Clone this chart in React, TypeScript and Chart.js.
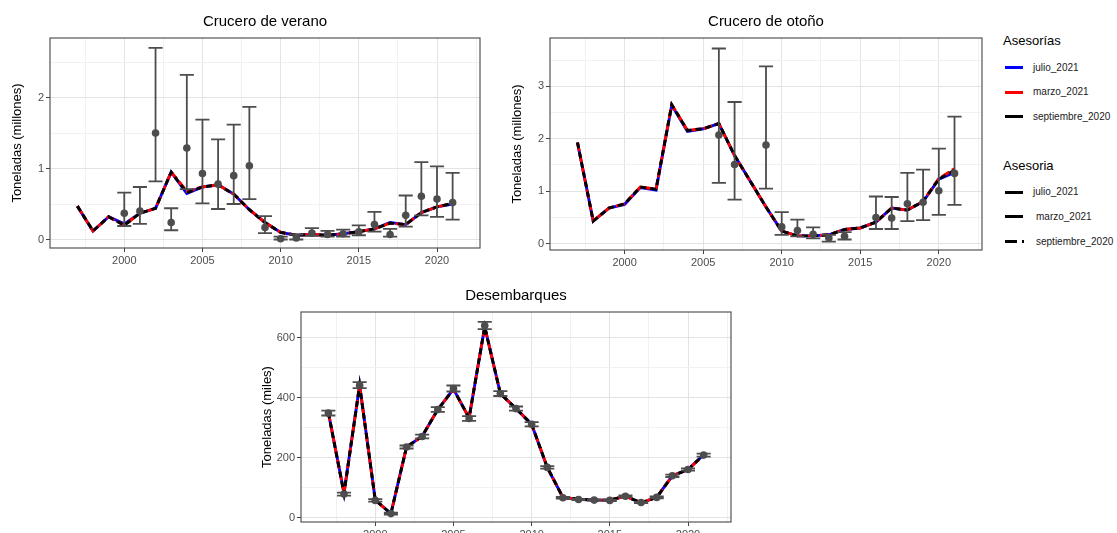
import React, { useEffect, useRef } from 'react';
import { Chart, registerables } from 'chart.js';

Chart.register(...registerables);

const FONT = "'Liberation Sans', Arial, sans-serif";

// ---- categories ----
const years = [1997, 1998, 1999, 2000, 2001, 2002, 2003, 2004, 2005, 2006, 2007, 2008, 2009, 2010, 2011, 2012, 2013, 2014, 2015, 2016, 2017, 2018, 2019, 2020, 2021];

// ---- tick positions / labels ----
const xGridTicks = [1997.5, 2000, 2002.5, 2005, 2007.5, 2010, 2012.5, 2015, 2017.5, 2020, 2022.5];
const xTickLabels = [2000, 2005, 2010, 2015, 2020];
const veranoYTicks = [0, 0.5, 1, 1.5, 2, 2.5];
const veranoYLabels = [0, 1, 2];
const otonoYTicks = [0, 0.5, 1, 1.5, 2, 2.5, 3, 3.5];
const otonoYLabels = [0, 1, 2, 3];
const desembYTicks = [0, 100, 200, 300, 400, 500, 600];
const desembYLabels = [0, 200, 400, 600];

// ---- Crucero de verano (millones t) ----
const veranoSept = [0.47, 0.12, 0.32, 0.2, 0.37, 0.44, 0.95, 0.66, 0.74, 0.77, 0.64, 0.42, 0.24, 0.1, 0.06, 0.07, 0.06, 0.08, 0.11, 0.15, 0.23, 0.21, 0.38, 0.46, 0.51];
const veranoMarzo = [0.47, 0.12, 0.32, 0.2, 0.37, 0.44, 0.95, 0.68, 0.74, 0.77, 0.64, 0.42, 0.24, 0.1, 0.06, 0.07, 0.06, 0.08, 0.11, 0.15, 0.23, 0.21, 0.38, 0.46, 0.51];
const veranoJulio = [0.47, 0.12, 0.32, 0.22, 0.37, 0.44, 0.95, 0.65, 0.74, 0.77, 0.64, 0.42, 0.24, 0.1, 0.06, 0.07, 0.06, 0.08, 0.11, 0.15, 0.24, 0.21, 0.38, 0.46, 0.5];
const veranoObsYears = [2000, 2001, 2002, 2003, 2004, 2005, 2006, 2007, 2008, 2009, 2010, 2011, 2012, 2013, 2014, 2015, 2016, 2017, 2018, 2019, 2020, 2021];
const veranoObs = [0.37, 0.4, 1.5, 0.24, 1.29, 0.93, 0.78, 0.9, 1.04, 0.17, 0.01, 0.02, 0.09, 0.07, 0.08, 0.11, 0.21, 0.07, 0.34, 0.61, 0.57, 0.52];
const veranoLow = [0.19, 0.22, 0.82, 0.13, 0.71, 0.51, 0.43, 0.5, 0.57, 0.09, 0.0, 0.0, 0.05, 0.04, 0.04, 0.06, 0.11, 0.04, 0.18, 0.34, 0.32, 0.28];
const veranoHigh = [0.66, 0.74, 2.7, 0.44, 2.32, 1.69, 1.41, 1.62, 1.87, 0.33, 0.04, 0.07, 0.16, 0.12, 0.14, 0.2, 0.39, 0.15, 0.62, 1.09, 1.03, 0.94];

// ---- Crucero de otoño (millones t) ----
const otonoSept = [1.93, 0.43, 0.68, 0.76, 1.08, 1.04, 2.65, 2.16, 2.19, 2.29, 1.68, 1.19, 0.7, 0.24, 0.15, 0.15, 0.17, 0.27, 0.3, 0.41, 0.68, 0.64, 0.81, 1.23, 1.4];
const otonoMarzo = [1.93, 0.43, 0.68, 0.76, 1.08, 1.04, 2.65, 2.16, 2.19, 2.29, 1.68, 1.19, 0.7, 0.24, 0.15, 0.15, 0.17, 0.27, 0.3, 0.41, 0.68, 0.64, 0.81, 1.24, 1.43];
const otonoJulio = [1.93, 0.43, 0.68, 0.75, 1.07, 1.02, 2.64, 2.14, 2.19, 2.29, 1.68, 1.19, 0.7, 0.24, 0.15, 0.15, 0.17, 0.27, 0.3, 0.41, 0.68, 0.64, 0.8, 1.23, 1.36];
const otonoObsYears = [2006, 2007, 2009, 2010, 2011, 2012, 2013, 2014, 2016, 2017, 2018, 2019, 2020, 2021];
const otonoObs = [2.07, 1.51, 1.88, 0.32, 0.25, 0.18, 0.11, 0.14, 0.5, 0.49, 0.76, 0.79, 1.01, 1.34];
const otonoLow = [1.16, 0.84, 1.05, 0.17, 0.14, 0.1, 0.04, 0.08, 0.28, 0.28, 0.43, 0.45, 0.55, 0.74];
const otonoHigh = [3.72, 2.7, 3.38, 0.6, 0.46, 0.31, 0.17, 0.22, 0.9, 0.89, 1.35, 1.41, 1.81, 2.42];

// ---- Desembarques (miles t) ----
const desembSept = [350, 80, 441, 58, 13, 235, 271, 360, 428, 332, 636, 413, 363, 311, 167, 67, 61, 58, 58, 71, 49, 67, 139, 160, 209];
const desembMarzo = [350, 80, 441, 58, 13, 235, 271, 360, 428, 332, 636, 413, 363, 311, 167, 67, 61, 58, 58, 71, 49, 67, 139, 160, 207];
const desembJulio = [350, 82, 441, 58, 13, 235, 271, 360, 428, 332, 636, 413, 363, 311, 167, 67, 61, 58, 58, 71, 49, 67, 139, 160, 209];
const desembObs = [348, 78, 441, 57, 13, 235, 270, 360, 430, 330, 640, 413, 363, 311, 167, 66, 60, 58, 57, 71, 50, 67, 139, 160, 208];
const desembLow = [340, 73, 431, 53, 10, 230, 264, 352, 420, 322, 628, 405, 356, 304, 163, 63, 58, 56, 55, 68, 48, 64, 135, 156, 203];
const desembHigh = [356, 83, 451, 61, 16, 240, 276, 368, 440, 338, 652, 421, 370, 318, 171, 69, 62, 60, 59, 74, 52, 70, 143, 164, 213];

const errorBarPlugin = {
  id: 'errorBars',
  beforeDatasetDraw(chart: any, args: any) {
    const ds = chart.data.datasets[args.index];
    if (!ds.errLow) return;
    const xs = chart.scales.x;
    const ys = chart.scales.y;
    const ctx = chart.ctx;
    ctx.save();
    ctx.strokeStyle = '#4D4D4D';
    ctx.lineWidth = 1.8;
    ds.data.forEach((p: any, i: number) => {
      const px = xs.getPixelForValue(p.x);
      const l = xs.getPixelForValue(p.x - 0.45);
      const r = xs.getPixelForValue(p.x + 0.45);
      const lo = ys.getPixelForValue(ds.errLow[i]);
      const hi = ys.getPixelForValue(ds.errHigh[i]);
      ctx.beginPath();
      ctx.moveTo(px, lo);
      ctx.lineTo(px, hi);
      ctx.moveTo(l, lo);
      ctx.lineTo(r, lo);
      ctx.moveTo(l, hi);
      ctx.lineTo(r, hi);
      ctx.stroke();
    });
    ctx.restore();
  },
};

const panelBorderPlugin = {
  id: 'panelBorder',
  afterDraw(chart: any) {
    const { left, right, top, bottom } = chart.chartArea;
    const ctx = chart.ctx;
    ctx.save();
    ctx.strokeStyle = '#555555';
    ctx.lineWidth = 1.2;
    ctx.strokeRect(left, top, right - left, bottom - top);
    ctx.restore();
  },
};

type PanelProps = {
  left: number; top: number; width: number; height: number;
  title: string; yTitle: string; yMin: number; yMax: number;
  yTicks: number[]; yLabels: number[];
  julio: number[]; marzo: number[]; sept: number[];
  obsYears: number[]; obs: number[]; low: number[]; high: number[];
  yAxisWidth: number; xAxisHeight: number; padRight: number; yTitlePad: number;
};

function Panel(p: PanelProps) {
  const ref = useRef<HTMLCanvasElement>(null);
  useEffect(() => {
    if (!ref.current) return;
    const line = (label: string, vals: number[], color: string, dash: number[]) => ({
      type: 'line',
      label,
      data: years.map((x, i) => ({ x, y: vals[i] })),
      borderColor: color,
      borderWidth: 2.9,
      borderDash: dash,
      pointRadius: 0,
      tension: 0,
      fill: false,
    });
    const gridColor = (ctx: any, major: number[]) => {
      const v = ctx.tick ? ctx.tick.value : null;
      return v !== null && major.includes(v) ? '#E3E3E3' : '#F1F1F1';
    };
    const tickColor = (ctx: any, major: number[]) => {
      const v = ctx.tick ? ctx.tick.value : null;
      return v !== null && major.includes(v) ? '#444444' : 'rgba(0,0,0,0)';
    };
    const chart = new Chart(ref.current, {
      type: 'line',
      data: {
        datasets: [
          {
            type: 'scatter',
            label: 'obs',
            data: p.obsYears.map((x, i) => ({ x, y: p.obs[i] })),
            errLow: p.low,
            errHigh: p.high,
            pointRadius: 3.8,
            pointBackgroundColor: '#4D4D4D',
            pointBorderColor: '#4D4D4D',
            pointBorderWidth: 0,
            showLine: false,
          } as any,
          line('septiembre_2020', p.sept, '#000000', [6, 4]) as any,
          line('marzo_2021', p.marzo, '#FF0000', [9, 3]) as any,
          line('julio_2021', p.julio, '#0000FF', []) as any,
        ],
      },
      options: {
        responsive: false,
        animation: false,
        layout: { padding: { left: 0, right: p.padRight, top: 0, bottom: 0 } },
        plugins: {
          legend: { display: false },
          tooltip: { enabled: false },
          title: {
            display: true,
            text: p.title,
            fullSize: false,
            color: '#000000',
            font: { family: FONT, size: 15, weight: 'normal' },
            padding: { top: 13, bottom: 7 },
          },
        },
        scales: {
          x: {
            type: 'linear',
            min: 1995.25,
            max: 2022.75,
            afterBuildTicks: (s: any) => { s.ticks = xGridTicks.map((v) => ({ value: v })); },
            afterFit: (s: any) => { s.height = p.xAxisHeight; },
            ticks: {
              autoSkip: false,
              maxRotation: 0,
              padding: 2,
              color: '#4D4D4D',
              font: { family: FONT, size: 11 },
              callback: (v: any) => (xTickLabels.includes(Number(v)) ? String(v) : ''),
            },
            grid: {
              color: (ctx: any) => gridColor(ctx, xTickLabels),
              lineWidth: 1,
              tickLength: 4,
              tickColor: (ctx: any) => tickColor(ctx, xTickLabels),
            },
            border: { display: false },
          },
          y: {
            type: 'linear',
            min: p.yMin,
            max: p.yMax,
            afterBuildTicks: (s: any) => { s.ticks = p.yTicks.map((v) => ({ value: v })); },
            afterFit: (s: any) => { s.width = p.yAxisWidth; },
            ticks: {
              padding: 2,
              color: '#4D4D4D',
              font: { family: FONT, size: 11 },
              callback: (v: any) => (p.yLabels.includes(Number(v)) ? String(v) : ''),
            },
            grid: {
              color: (ctx: any) => gridColor(ctx, p.yLabels),
              lineWidth: 1,
              tickLength: 4,
              tickColor: (ctx: any) => tickColor(ctx, p.yLabels),
            },
            border: { display: false },
            title: {
              display: true,
              text: p.yTitle,
              color: '#000000',
              font: { family: FONT, size: 13 },
              padding: { top: p.yTitlePad, bottom: 0 },
            },
          },
        },
      } as any,
      plugins: [errorBarPlugin, panelBorderPlugin],
    });
    return () => chart.destroy();
  }, []);
  return (
    <canvas
      ref={ref}
      width={p.width}
      height={p.height}
      style={{ position: 'absolute', left: p.left, top: p.top, width: p.width, height: p.height, display: 'block' }}
    />
  );
}

const legendTitle: React.CSSProperties = { position: 'absolute', left: 1003, fontFamily: FONT, fontSize: 13, color: '#000', lineHeight: '16px' };
const legendText: React.CSSProperties = { position: 'absolute', left: 1033, fontFamily: FONT, fontSize: 10, color: '#1A1A1A', lineHeight: '12px' };

function Swatch({ y, color, left = 1005, width = 18 }: { y: number; color: string; left?: number; width?: number }) {
  return <div style={{ position: 'absolute', left, top: y - 1.5, width, height: 3, background: color }} />;
}

export default function App() {
  return (
    <div style={{ position: 'absolute', left: 0, top: 0, width: 1117, height: 533, background: '#fff', overflow: 'hidden' }}>
      <Panel
        left={0} top={0} width={490} height={270}
        title="Crucero de verano" yTitle="Toneladas (millones)"
        yMin={-0.12} yMax={2.84} yTicks={veranoYTicks} yLabels={veranoYLabels}
        julio={veranoJulio} marzo={veranoMarzo} sept={veranoSept}
        obsYears={veranoObsYears} obs={veranoObs} low={veranoLow} high={veranoHigh}
        yAxisWidth={50} xAxisHeight={22} padRight={10} yTitlePad={10}
      />
      <Panel
        left={490} top={0} width={500} height={272}
        title="Crucero de otoño" yTitle="Toneladas (millones)"
        yMin={-0.12} yMax={3.92} yTicks={otonoYTicks} yLabels={otonoYLabels}
        julio={otonoJulio} marzo={otonoMarzo} sept={otonoSept}
        obsYears={otonoObsYears} obs={otonoObs} low={otonoLow} high={otonoHigh}
        yAxisWidth={60} xAxisHeight={22} padRight={8} yTitlePad={20}
      />
      <Panel
        left={240} top={274} width={500} height={259}
        title="Desembarques" yTitle="Toneladas (miles)"
        yMin={-15} yMax={685} yTicks={desembYTicks} yLabels={desembYLabels}
        julio={desembJulio} marzo={desembMarzo} sept={desembSept}
        obsYears={years} obs={desembObs} low={desembLow} high={desembHigh}
        yAxisWidth={61} xAxisHeight={11} padRight={9} yTitlePad={20}
      />
      <div style={{ ...legendTitle, top: 33 }}>Asesorías</div>
      <Swatch y={67.5} color="#0000FF" />
      <div style={{ ...legendText, top: 61.5 }}>julio_2021</div>
      <Swatch y={92} color="#FF0000" />
      <div style={{ ...legendText, top: 86 }}>marzo_2021</div>
      <Swatch y={116.5} color="#000000" />
      <div style={{ ...legendText, top: 110.5 }}>septiembre_2020</div>

      <div style={{ ...legendTitle, top: 158 }}>Asesoria</div>
      <Swatch y={192} color="#000000" />
      <div style={{ ...legendText, top: 186 }}>julio_2021</div>
      <Swatch y={216.5} color="#000000" />
      <div style={{ ...legendText, top: 210.5, left: 1036 }}>marzo_2021</div>
      <Swatch y={241.5} color="#000000" width={12} />
      <Swatch y={241.5} color="#000000" left={1022} width={2} />
      <div style={{ ...legendText, top: 235.5, left: 1036 }}>septiembre_2020</div>
    </div>
  );
}
